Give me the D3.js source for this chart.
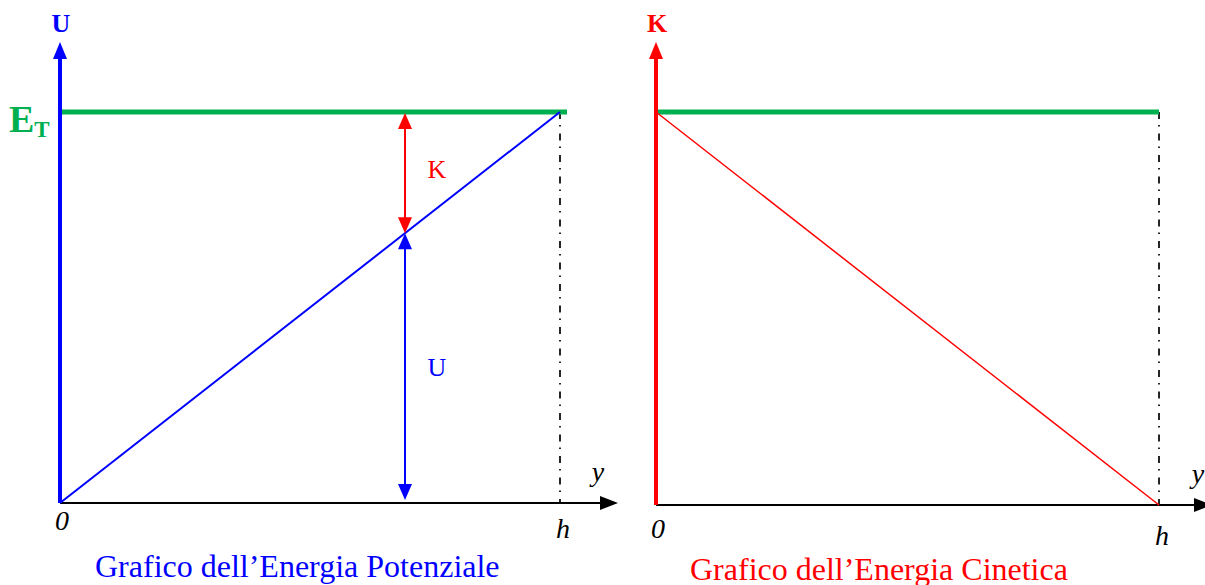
<!DOCTYPE html>
<html>
<head>
<meta charset="utf-8">
<script src="https://cdn.jsdelivr.net/npm/d3@7"></script>
<style>
  body { margin: 0; background: #fff; }
  svg { display: block; }
  text { font-family: "Liberation Serif", "Times New Roman", serif; }
</style>
</head>
<body>
<div id="chart"></div>
<script>
// position along y (0 .. h) and energy as a fraction of E_T
const yPos = [0, 1]
const yLabels = ["0", "h"]
const potential = [0, 1]
const kinetic = [1, 0]
const totalEnergy = [1, 1]
const sampleY = 0.69   // where the K / U arrows are drawn

const width = 1205
const height = 585
const green = "#00b050"

let svg = d3.select("#chart")
  .append("svg")
  .attr("width", width)
  .attr("height", height)

// little triangle arrow heads, dir = "up" | "down" | "right"
function head(g, x, y, dir, len, wide, color) {
  let p
  if (dir == "up") p = [[x, y], [x - wide / 2, y + len], [x + wide / 2, y + len]]
  else if (dir == "down") p = [[x, y], [x - wide / 2, y - len], [x + wide / 2, y - len]]
  else p = [[x, y], [x - len, y - wide / 2], [x - len, y + wide / 2]]
  g.append("path").attr("d", "M" + p.join("L") + "Z").attr("fill", color)
}

function panel(opt) {
  let g = svg.append("g")
  let x = d3.scaleLinear().domain([0, 1]).range(opt.xr)
  let e = d3.scaleLinear().domain([0, 1]).range(opt.er)
  let line = d3.line().x((d, i) => x(yPos[i])).y(d => e(d))

  // dash-dot guide at y = h
  g.append("line")
    .attr("x1", x(1)).attr("x2", x(1))
    .attr("y1", e(1)).attr("y2", e(0))
    .attr("stroke", "#000").attr("stroke-width", 1.7)
    .attr("stroke-dasharray", "7,6,1.5,7")

  // horizontal axis
  g.append("line")
    .attr("x1", x(0)).attr("x2", opt.xEnd - 16)
    .attr("y1", e(0)).attr("y2", e(0))
    .attr("stroke", "#000").attr("stroke-width", 2)
  head(g, opt.xEnd, e(0), "right", 18, 14, "#000")

  // total energy
  g.append("line")
    .attr("x1", x(0) - opt.gPad[0]).attr("x2", x(1) + opt.gPad[1])
    .attr("y1", e(totalEnergy[0])).attr("y2", e(totalEnergy[1]))
    .attr("stroke", green).attr("stroke-width", 5)

  // energy curve
  g.append("path").datum(opt.values)
    .attr("d", line)
    .attr("stroke", opt.color).attr("stroke-width", opt.lw).attr("fill", "none")

  // vertical axis
  g.append("line")
    .attr("x1", x(0)).attr("x2", x(0))
    .attr("y1", e(0)).attr("y2", opt.yTop + 14)
    .attr("stroke", opt.color).attr("stroke-width", 4)
  head(g, x(0), opt.yTop, "up", 17, 14, opt.color)

  g.append("text")
    .attr("x", x(0) + 1).attr("y", opt.yTop - 10)
    .attr("text-anchor", "middle")
    .attr("font-size", 26).attr("font-weight", "bold")
    .attr("fill", opt.color)
    .text(opt.axisName)

  // tick labels 0 and h
  g.selectAll(".tick-label")
    .data(yLabels)
    .join("text")
    .attr("x", (d, i) => x(yPos[i]) + (i == 0 ? 2 : 3))
    .attr("y", (d, i) => e(0) + (i == 0 ? opt.zeroDy : opt.hDy))
    .attr("text-anchor", "middle")
    .attr("font-size", 28).attr("font-style", "italic")
    .text(d => d)

  g.append("text")
    .attr("x", opt.yLabX).attr("y", e(0) - 22)
    .attr("text-anchor", "middle")
    .attr("font-size", 28).attr("font-style", "italic")
    .text("y")

  g.append("text")
    .attr("x", opt.titleX).attr("y", opt.titleY)
    .attr("font-size", 32)
    .attr("fill", opt.color)
    .text(opt.title)

  return { g, x, e }
}

let left = panel({
  xr: [60, 560], er: [503, 112], xEnd: 618, yTop: 42, gPad: [0, 7],
  values: potential, color: "blue", lw: 2, axisName: "U",
  zeroDy: 27, hDy: 35, yLabX: 598,
  title: "Grafico dell\u2019Energia Potenziale", titleX: 95, titleY: 577
})

let right = panel({
  xr: [656, 1159], er: [505, 112], xEnd: 1212, yTop: 42, gPad: [2, 0],
  values: kinetic, color: "red", lw: 1.5, axisName: "K",
  zeroDy: 33, hDy: 40, yLabX: 1198,
  title: "Grafico dell\u2019Energia Cinetica", titleX: 690, titleY: 580
})

// E_T label
let et = svg.append("text")
  .attr("x", 9).attr("y", 132)
  .attr("fill", green).attr("font-weight", "bold")
et.append("tspan").attr("font-size", 38).text("E")
et.append("tspan").attr("font-size", 23).attr("dy", 5).text("T")

// K and U arrows at sampleY in the left panel
let lg = left.g, lx = left.x(sampleY)
let uVal = potential[0] + (potential[1] - potential[0]) * sampleY
let yTopE = left.e(1), yMid = left.e(uVal), yBot = left.e(0)

lg.append("line")
  .attr("x1", lx).attr("x2", lx)
  .attr("y1", yTopE + 14).attr("y2", yMid - 14)
  .attr("stroke", "red").attr("stroke-width", 2)
head(lg, lx, yTopE + 1, "up", 16, 14, "red")
head(lg, lx, yMid, "down", 16, 14, "red")

lg.append("line")
  .attr("x1", lx).attr("x2", lx)
  .attr("y1", yMid + 14).attr("y2", yBot - 16)
  .attr("stroke", "blue").attr("stroke-width", 2)
head(lg, lx, yMid, "up", 16, 14, "blue")
head(lg, lx, yBot - 3, "down", 16, 14, "blue")

lg.append("text")
  .attr("x", lx + 32).attr("y", (yTopE + yMid) / 2 + 5)
  .attr("text-anchor", "middle")
  .attr("font-size", 26).attr("fill", "red")
  .text("K")

lg.append("text")
  .attr("x", lx + 32).attr("y", (yMid + yBot) / 2 + 8)
  .attr("text-anchor", "middle")
  .attr("font-size", 26).attr("fill", "blue")
  .text("U")
</script>
</body>
</html>
